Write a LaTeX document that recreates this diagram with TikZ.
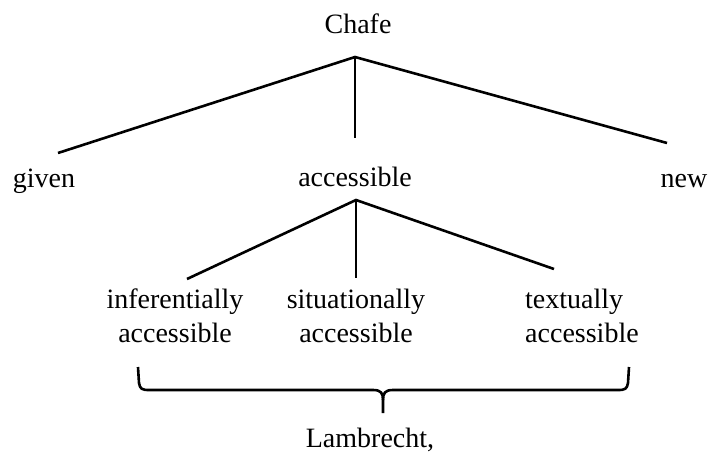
\documentclass[tikz,border=0pt]{standalone}
\usepackage{fontspec}
\setmainfont{Liberation Serif}
\usetikzlibrary{calc}

\begin{document}
\begin{tikzpicture}[x=1pt, y=-1pt,
    lbl/.style={font=\fontsize{28}{34}\selectfont, inner sep=0pt, anchor=base, align=center},
    branch/.style={line width=2.6pt}]
  \useasboundingbox (0,0) rectangle (710,453);

  % top level
  \node[lbl] (chafe) at (358,33) {Chafe};
  \node[lbl] (given) at (44,187) {given};
  \node[lbl] (acc) at (355,186) {accessible};
  \node[lbl] (new) at (684,187) {new};

  \coordinate (chafe-root) at (355,57);
  \coordinate (given-end) at (58,153);
  \coordinate (acc-end) at (355,138);
  \coordinate (new-end) at (667,143);

  \draw[branch] (given-end) -- (chafe-root) -- (new-end);
  \draw[branch] (chafe-root) -- (acc-end);

  % second level (base = last line)
  \node[lbl] (infer) at (175,342) {inferentially\\accessible};
  \node[lbl] (situ) at (356,342) {situationally\\accessible};
  \node[lbl, anchor=base west, align=left] (text) at (525,342) {textually\\accessible};

  \coordinate (acc-root) at (356,200);
  \coordinate (infer-end) at (187,279);
  \coordinate (situ-end) at (356,278);
  \coordinate (text-end) at (554,269);

  \draw[branch] (infer-end) -- (acc-root) -- (text-end);
  \draw[branch] (acc-root) -- (situ-end);

  % brace
  \coordinate (brace-l) at (138,367);
  \coordinate (brace-r) at (629,367);
  \coordinate (brace-tip) at (383,413);
  \draw[branch, line join=round]
    (brace-l) -- (139,383) .. controls (140,389) and (142,390) .. (149,390)
    -- (373,390) .. controls (381,390) and (383,393) .. (383,400) -- (brace-tip);
  \draw[branch, line join=round]
    (brace-r) -- (628,383) .. controls (627,389) and (625,390) .. (618,390)
    -- (393,390) .. controls (385,390) and (383,393) .. (383,400);

  \node[lbl] (lamb) at (370,447) {Lambrecht,};
\end{tikzpicture}
\end{document}
